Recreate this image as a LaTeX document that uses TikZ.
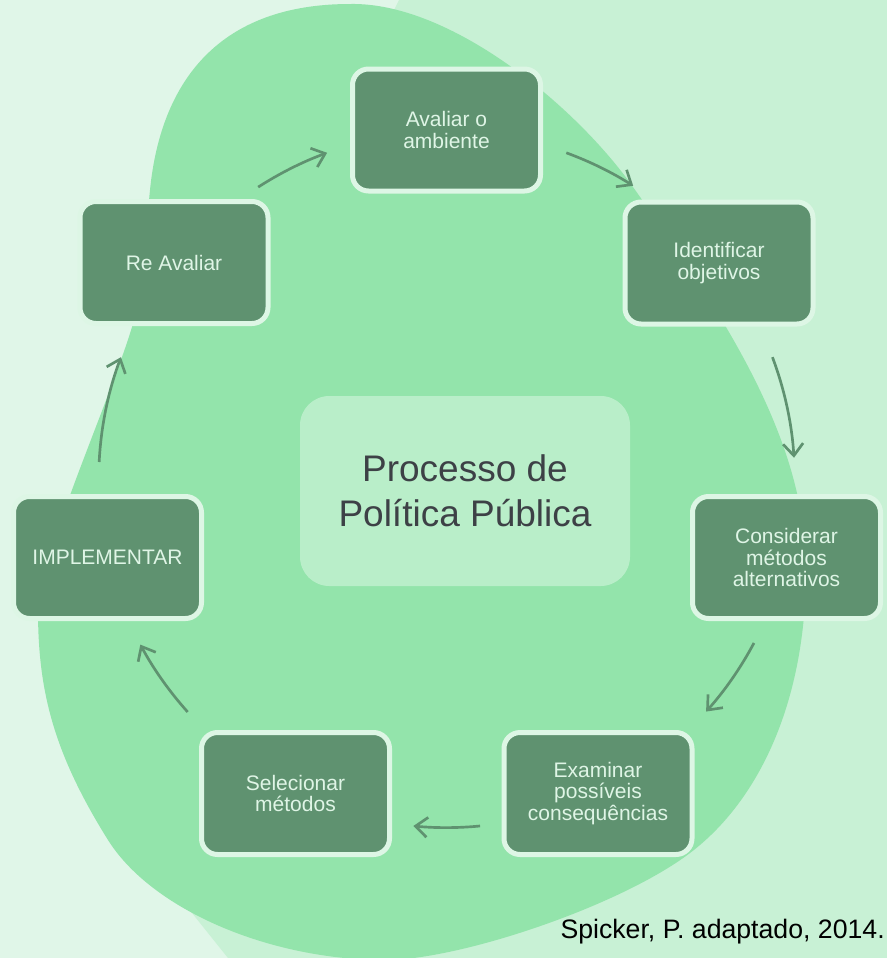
\documentclass[tikz,border=0pt]{standalone}
\usepackage{fontspec}
\setmainfont{Liberation Sans}
\usetikzlibrary{arrows.meta}
\definecolor{vlight}{HTML}{E0F6E8}
\definecolor{lightbg}{HTML}{C8F1D5}
\definecolor{blobcol}{HTML}{93E4AB}
\definecolor{centercol}{HTML}{B9EEC9}
\definecolor{nodefill}{HTML}{5F9270}
\definecolor{nodeborder}{HTML}{DDF6E5}
\definecolor{nodetext}{HTML}{DFF5E6}
\definecolor{centertext}{HTML}{3D4146}
\definecolor{arrowcol}{HTML}{5F9270}
\begin{document}
\begin{tikzpicture}[x=0.75pt,y=0.75pt,
  stepbox/.style={draw=nodeborder, line width=3.75pt, fill=nodefill, rounded corners=12pt,
    minimum width=141pt, minimum height=91.5pt, align=center, text=nodetext,
    font=\fontsize{15.75pt}{16.2pt}\selectfont, inner sep=0pt},
  centerbox/.style={fill=centercol, rounded corners=22pt, minimum width=247.5pt,
    minimum height=142.5pt, align=center, text=centertext,
    font=\fontsize{27.75pt}{33.75pt}\selectfont, inner sep=0pt},
  cyc/.style={draw=arrowcol, line width=2pt, -{Straight Barb[length=9pt,width=15pt]}}]
\useasboundingbox (0,0) rectangle (887,-958);
\clip (0,0) rectangle (887,-958);
% background
\fill[vlight] (0,0) rectangle (887,-958);
\fill[lightbg] (399,0) -- (887,0) -- (887,-958) -- (228,-958) -- (188,-908)
  .. controls (120,-800) and (300,-200) .. (399,0) -- cycle;
% blob
\fill[blobcol] (350,-4) .. controls (450,-2) and (575,-105) .. (633,-187)
  .. controls (726,-318) and (806,-440) .. (806,-570)
  .. controls (806,-700) and (760,-800) .. (690,-853)
  .. controls (620,-906) and (460,-960) .. (385,-960)
  .. controls (270,-960) and (152,-910) .. (108,-840)
  .. controls (53,-752) and (38,-690) .. (38,-610)
  .. controls (38,-560) and (110,-400) .. (132,-327)
  .. controls (143,-290) and (146,-230) .. (150,-190)
  .. controls (161,-80) and (220,-4) .. (350,-4) -- cycle;
% center
\node[centerbox] (ctr) at (465,-491) {Processo de\\Política Pública};
% steps
\node[stepbox] (A) at (446.5,-130) {Avaliar o\\ambiente};
\node[stepbox] (I) at (719,-263) {Identificar\\objetivos};
\node[stepbox] (C) at (786.5,-557.5) {Considerar\\métodos\\alternativos};
\node[stepbox] (E) at (598,-793.5) {Examinar\\possíveis\\consequências};
\node[stepbox] (S) at (295.5,-793.5) {Selecionar\\métodos};
\node[stepbox] (M) at (107.5,-557.5) {IMPLEMENTAR};
\node[stepbox] (R) at (174,-262.5) {Re Avaliar};
% cycle arrows (arcs round the centre of the cycle)
\coordinate (O) at (446.7,-479.6);
\draw[cyc] (O) ++(122.8:261pt) arc[start angle=122.8, end angle=110.1, radius=261pt];
\draw[cyc] (O) ++(69.9:261pt) arc[start angle=69.9, end angle=57.6, radius=261pt];
\draw[cyc] (O) ++(20.6:261pt) arc[start angle=20.6, end angle=3.6, radius=261pt];
\draw[cyc] (O) ++(-28.0:261pt) arc[start angle=-28.0, end angle=-41.8, radius=261pt];
\draw[cyc] (O) ++(-84.5:261pt) arc[start angle=-84.5, end angle=-95.5, radius=261pt];
\draw[cyc] (O) ++(-138.1:261pt) arc[start angle=-138.1, end angle=-151.7, radius=261pt];
\draw[cyc] (O) ++(177.1:261pt) arc[start angle=177.1, end angle=159.4, radius=261pt];
% source
\node[anchor=base east, font=\fontsize{20pt}{24pt}\selectfont, inner sep=0pt] (src) at (885,-938) {Spicker, P. adaptado, 2014.};
\end{tikzpicture}
\end{document}
